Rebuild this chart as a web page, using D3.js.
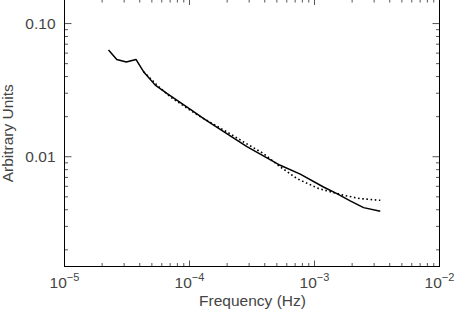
<!DOCTYPE html>
<html>
<head>
  <title>D3</title>
  <meta charset='utf-8'>
  <style>
    body { margin: 0; background: #fff; }
    text { font-family: "Liberation Sans", Arial, sans-serif; fill: #444; }
  </style>
</head>
<body>
  <div id="chart"></div>

  <script src="https://d3js.org/d3.v7.min.js"></script>

  <script type="text/javascript">
    // solid spectrum
    var solidFreq = [2.25e-5, 2.62e-5, 3.12e-5, 3.73e-5, 4.29e-5, 5.32e-5, 6.59e-5, 1.01e-4,
                     1.29e-4, 1.56e-4, 2.88e-4, 5.32e-4, 7.69e-4, 1.18e-3, 1.51e-3, 1.93e-3,
                     2.47e-3, 3.36e-3];
    var solidVal  = [0.0632, 0.0538, 0.0514, 0.0538, 0.0435, 0.0345, 0.0299, 0.0228,
                     0.0194, 0.0173, 0.0119, 0.00863, 0.0074, 0.00593, 0.00529, 0.00466,
                     0.00415, 0.0039];

    // dotted model
    var dotFreq = [4.3e-5, 5.49e-5, 7.01e-5, 8.43e-5, 1.01e-4, 1.22e-4, 1.47e-4, 1.99e-4,
                   2.70e-4, 3.91e-4, 5.32e-4, 7.23e-4, 1.08e-3, 1.71e-3, 2.32e-3, 3.36e-3];
    var dotVal  = [0.0435, 0.0345, 0.0282, 0.0251, 0.0224, 0.0200, 0.0181, 0.01538,
                   0.01294, 0.01057, 0.0084, 0.00686, 0.00577, 0.00514, 0.00485, 0.00471];

    var xTickExp = [-5, -4, -3, -2];
    var yTickLabels = ["0.10", "0.01"];
    var yTickVals = [0.1, 0.01];

    var width = 456,
        height = 312,
        mLeft = 64.5, mRight = 439.5, mTop = -1, mBottom = 266.5;

    var x = d3.scaleLog().domain([1e-5, 1e-2]).range([mLeft, mRight]);
    var y = d3.scaleLog().domain([0.0015, 0.1503]).range([mBottom, 0]);

    var svg = d3.select("#chart")
                .append("svg")
                .attr("width", width)
                .attr("height", height);

    // minor + major ticks
    var xMinor = [], yMinor = [];
    [-5, -4, -3].forEach(function(e) {
      for (var k = 2; k <= 9; k++) xMinor.push(k * Math.pow(10, e));
    });
    [-3, -2, -1].forEach(function(e) {
      for (var k = 2; k <= 9; k++) {
        var v = k * Math.pow(10, e);
        if (v >= 0.0015 && v <= 0.15) yMinor.push(v);
      }
    });

    var ticks = svg.append("g").attr("stroke", "#555").attr("stroke-width", 1);

    function xTick(v, len) {
      ticks.append("line").attr("x1", x(v)).attr("x2", x(v))
           .attr("y1", mBottom).attr("y2", mBottom - len);
      ticks.append("line").attr("x1", x(v)).attr("x2", x(v))
           .attr("y1", mTop).attr("y2", mTop + len);
    }
    function yTick(v, len) {
      ticks.append("line").attr("x1", mLeft).attr("x2", mLeft + len)
           .attr("y1", y(v)).attr("y2", y(v));
      ticks.append("line").attr("x1", mRight).attr("x2", mRight - len)
           .attr("y1", y(v)).attr("y2", y(v));
    }
    xMinor.forEach(function(v) { xTick(v, 3.5); });
    xTickExp.forEach(function(e) { xTick(Math.pow(10, e), 6); });
    yMinor.forEach(function(v) { yTick(v, 3.5); });
    yTickVals.forEach(function(v) { yTick(v, 7); });

    // frame
    svg.append("rect")
       .attr("x", mLeft).attr("y", mTop)
       .attr("width", mRight - mLeft).attr("height", mBottom - mTop)
       .attr("fill", "none").attr("stroke", "#000").attr("stroke-width", 1);

    // lines
    var line = d3.line()
                 .x(function(d) { return x(d[0]); })
                 .y(function(d) { return y(d[1]); });

    svg.append("path")
       .datum(d3.zip(dotFreq, dotVal))
       .attr("d", line)
       .attr("fill", "none")
       .attr("stroke", "#000")
       .attr("stroke-width", 1.6)
       .attr("stroke-dasharray", "1.6,2.6");

    svg.append("path")
       .datum(d3.zip(solidFreq, solidVal))
       .attr("d", line)
       .attr("fill", "none")
       .attr("stroke", "#000")
       .attr("stroke-width", 1.5)
       .attr("stroke-linejoin", "round");

    // x tick labels
    xTickExp.forEach(function(e) {
      var t = svg.append("text")
                 .attr("x", x(Math.pow(10, e)))
                 .attr("y", 288)
                 .attr("text-anchor", "middle")
                 .style("font-size", "15.5px");
      t.append("tspan").text("10");
      t.append("tspan").attr("dy", -7).style("font-size", "11px").text("\u2212" + (-e));
    });

    // y tick labels
    yTickVals.forEach(function(v, i) {
      svg.append("text")
         .attr("x", 55.5)
         .attr("y", y(v))
         .attr("dy", "0.36em")
         .attr("text-anchor", "end")
         .style("font-size", "15.5px")
         .text(yTickLabels[i]);
    });

    // axis titles
    svg.append("text")
       .attr("x", (mLeft + mRight) / 2 + 0.5)
       .attr("y", 306)
       .attr("text-anchor", "middle")
       .style("font-size", "15.5px")
       .text("Frequency (Hz)");

    svg.append("text")
       .attr("transform", "translate(13," + (mBottom / 2) + ") rotate(-90)")
       .attr("text-anchor", "middle")
       .style("font-size", "15.5px")
       .text("Arbitrary Units");
  </script>
</body>
</html>
